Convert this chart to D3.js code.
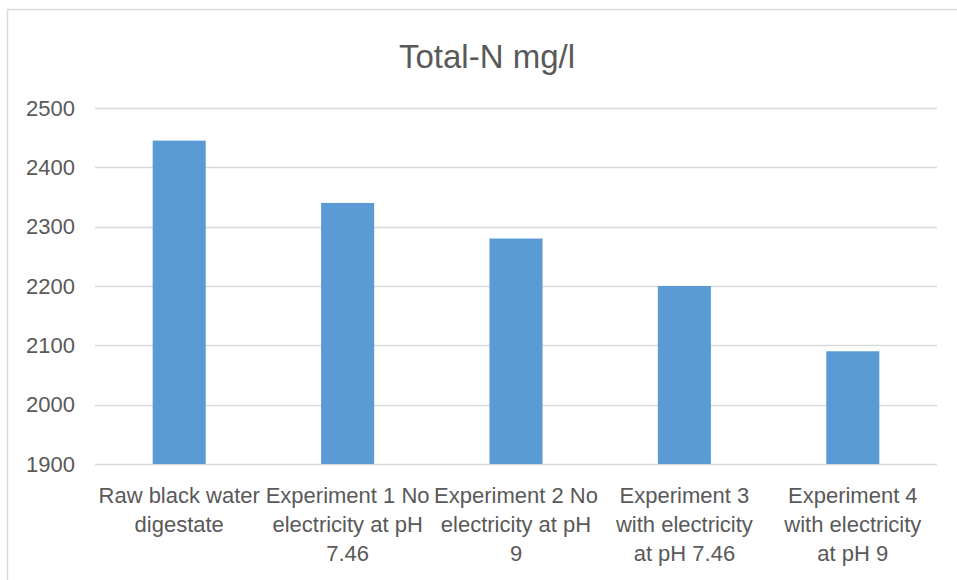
<!DOCTYPE html>
<html lang="en">
<head>
<meta charset="utf-8">
<title>Total-N mg/l</title>
<script src="https://cdnjs.cloudflare.com/ajax/libs/d3/7.8.5/d3.min.js"></script>
<style>
  body { margin: 0; background: #fff; }
  svg text { font-family: "Liberation Sans", Arial, sans-serif; fill: #595959; }
</style>
</head>
<body>
<svg id="chart" width="957" height="580"></svg>
<script>
// data
var categories = ["raw", "exp1", "exp2", "exp3", "exp4"];
var labelLines = [
  ["Raw black water", "digestate"],
  ["Experiment 1 No", "electricity at pH", "7.46"],
  ["Experiment 2 No", "electricity at pH", "9"],
  ["Experiment 3", "with electricity", "at pH 7.46"],
  ["Experiment 4", "with electricity", "at pH 9"]
];
var totalN = [2445, 2340, 2280, 2200, 2090];
var yTicks = [1900, 2000, 2100, 2200, 2300, 2400, 2500];

var svg = d3.select("#chart");
var margin = { top: 108, right: 20, bottom: 116, left: 95 },
    width = 937 - margin.left,
    height = 464 - margin.top;

// outer chart border (right and bottom fall outside the window)
svg.append("rect")
  .attr("x", 7.5).attr("y", 9.5)
  .attr("width", 980).attr("height", 600)
  .attr("fill", "none")
  .attr("stroke", "#d9d9d9")
  .attr("stroke-width", 1.5);

svg.append("text")
  .attr("x", 487)
  .attr("y", 68)
  .attr("text-anchor", "middle")
  .attr("font-size", 33)
  .text("Total-N mg/l");

var g = svg.append("g").attr("transform", "translate(" + margin.left + "," + margin.top + ")");

var x = d3.scaleBand().domain(categories).range([0, width]).paddingInner(0.685).paddingOuter(0.3425);
var y = d3.scaleLinear().domain([1900, 2500]).range([height, 0]);

// gridlines
g.append("g")
  .selectAll("line")
  .data(yTicks)
  .enter().append("line")
  .attr("x1", 0).attr("x2", width)
  .attr("y1", function (d) { return Math.round(y(d)) + 0.5; })
  .attr("y2", function (d) { return Math.round(y(d)) + 0.5; })
  .attr("stroke", "#d9d9d9")
  .attr("stroke-width", 1.5);

// y axis labels
var yAxis = d3.axisLeft(y).tickValues(yTicks).tickFormat(d3.format("d")).tickSize(0).tickPadding(20);
var ya = g.append("g").call(yAxis);
ya.select(".domain").remove();
ya.selectAll("text")
  .attr("font-size", 22)
  .attr("fill", "#595959")
  .attr("font-family", "Liberation Sans, Arial, sans-serif");

// bars
g.append("g")
  .selectAll("rect")
  .data(totalN)
  .enter().append("rect")
  .attr("x", function (d, i) { return x(categories[i]); })
  .attr("y", function (d) { return y(d); })
  .attr("width", x.bandwidth())
  .attr("height", function (d) { return height - y(d); })
  .attr("fill", "#5b9bd5");

// category labels, wrapped as in the reference
var xl = g.append("g")
  .selectAll("text")
  .data(labelLines)
  .enter().append("text")
  .attr("text-anchor", "middle")
  .attr("font-size", 22)
  .attr("transform", function (d, i) { return "translate(" + (x(categories[i]) + x.bandwidth() / 2) + "," + (height + 39) + ")"; });

xl.selectAll("tspan")
  .data(function (d) { return d; })
  .enter().append("tspan")
  .attr("x", 0)
  .attr("dy", function (d, i) { return i === 0 ? 0 : 29; })
  .text(function (d) { return d; });
</script>
</body>
</html>
